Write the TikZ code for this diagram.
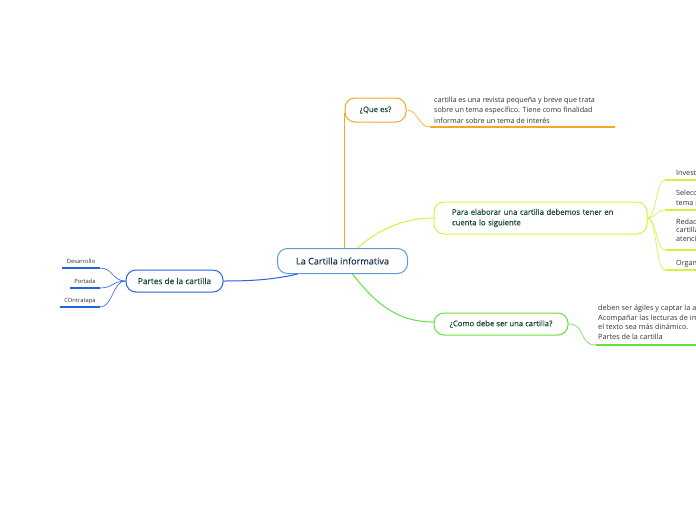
\documentclass[tikz,border=0pt]{standalone}
\usepackage{fontspec}
\setmainfont{Open Sans}
\newfontfamily\semib[FakeBold=0.35]{Open Sans}
\definecolor{txt}{HTML}{1B4A3C}
\definecolor{ctxt}{HTML}{1A3550}
\definecolor{corange}{HTML}{F5A623}
\definecolor{cyell}{HTML}{D6F03C}
\definecolor{cgreen}{HTML}{62E23E}
\definecolor{cblue}{HTML}{2463E6}
\definecolor{clight}{HTML}{5A9BD8}
\definecolor{small}{HTML}{333333}
\tikzset{
  topic/.style={draw, rounded corners=10pt, fill=white, line width=1pt, inner sep=0pt, text=txt, font=\semib\fontsize{7.7}{10.5}\selectfont},
  conn/.style={line width=1pt},
  uline/.style={line width=1.6pt},
  leaf/.style={anchor=base west, inner sep=0pt, text=small, font=\fontsize{7.2}{10.2}\selectfont, align=left},
  tiny/.style={anchor=base, inner sep=0pt, text=small, font=\fontsize{5.8}{7}\selectfont},
}
\begin{document}
\begin{tikzpicture}[x=1pt,y=-1pt]
\path[use as bounding box] (0,0) rectangle (696,520);
\clip (0,0) rectangle (696,520);
\fill[white] (0,0) rectangle (696,520);

% topic nodes
\node[topic, draw=clight, text=ctxt, minimum width=130pt, minimum height=25pt, font=\semib\fontsize{9.1}{11}\selectfont] (c) at (342.5,261) {La Cartilla informativa};
\node[topic, draw=corange, minimum width=61pt, minimum height=24pt] (q) at (375.5,110) {¿Que es?};
\node[topic, draw=cyell, minimum width=213pt, minimum height=32pt, text width=177pt, align=left, inner xsep=18pt] (p) at (540.5,218) {Para elaborar una cartilla debemos tener en cuenta lo siguiente};
\node[topic, draw=cgreen, minimum width=134pt, minimum height=22pt] (m) at (501,324) {¿Como debe ser una cartilla?};
\node[topic, draw=cblue, minimum width=97pt, minimum height=22pt, font=\semib\fontsize{8.3}{10}\selectfont] (t) at (174.5,281) {Partes de la cartilla};

% central connectors
\draw[conn, corange] (c.north -| q.west) -- ([yshift=-3pt]q.west);
\draw[conn, cyell] ([xshift=15pt]c.north) .. controls +(20,-18) and +(-30,0) .. (p.west);
\draw[conn, cgreen] ([xshift=10pt]c.south) .. controls +(20,25) and +(-40,0) .. ([yshift=2pt]m.west);
\draw[conn, cblue] ([xshift=-45pt]c.south) .. controls +(-25,6) and +(25,0) .. (t.east);

% Que es leaf
\coordinate (qa) at (430,127);
\coordinate (qb) at (615,127);
\draw[conn, corange, line width=0.6pt] (q.east) .. controls +(12,0) and +(-12,0) .. (qa);
\draw[uline, corange] (qa) -- (qb);
\node[leaf] (qt) at (434,123) {cartilla es una revista pequeña y breve que trata\\sobre un tema específico. Tiene como finalidad\\informar sobre un tema de interés};

% Para leaves
\coordinate (p1a) at (665,180); \coordinate (p1b) at (720,180);
\coordinate (p2a) at (665,210); \coordinate (p2b) at (720,210);
\coordinate (p3a) at (665,250); \coordinate (p3b) at (720,250);
\coordinate (p4a) at (665,270); \coordinate (p4b) at (720,270);
\foreach \k in {1,2,3,4}{
  \draw[conn, cyell, line width=0.6pt] (p.east) .. controls +(9,0) and +(-9,0) .. (p\k a);
  \draw[uline, cyell] (p\k a) -- (p\k b);
}
\node[leaf] (pt1) at (676,175) {Investigar};
\node[leaf, font=\fontsize{7.2}{9.5}\selectfont] (pt2) at (676,205) {Seleccionar el\\tema principal};
\node[leaf, font=\fontsize{7.2}{8.3}\selectfont] (pt3) at (676,241) {Redactar la\\cartilla\\atención};
\node[leaf] (pt4) at (676,265) {Organizar};

% Como leaf
\coordinate (ma) at (596,345);
\coordinate (mb) at (720,345);
\draw[conn, cgreen, line width=0.6pt] (m.east) .. controls +(18,0) and +(-18,0) .. (ma);
\draw[uline, cgreen] (ma) -- (mb);
\node[leaf, font=\fontsize{7.3}{9.4}\selectfont] (mt) at (598,339) {deben ser ágiles y captar la atención\\Acompañar las lecturas de imágenes\\el texto sea más dinámico.\\Partes de la cartilla};

% Partes leaves
\coordinate (l1a) at (62,268); \coordinate (l1b) at (100,268);
\coordinate (l2a) at (70,288); \coordinate (l2b) at (100,288);
\coordinate (l3a) at (60,307); \coordinate (l3b) at (100,307);
\foreach \k in {1,2,3}{
  \draw[conn, cblue, line width=0.6pt] (t.west) .. controls +(-13,0) and +(13,0) .. (l\k b);
  \draw[uline, cblue] (l\k a) -- (l\k b);
}
\node[tiny] (lt1) at (81,263) {Desarrollo};
\node[tiny] (lt2) at (85,283) {Portada};
\node[tiny] (lt3) at (80,302) {COntratapa};
\end{tikzpicture}
\end{document}
